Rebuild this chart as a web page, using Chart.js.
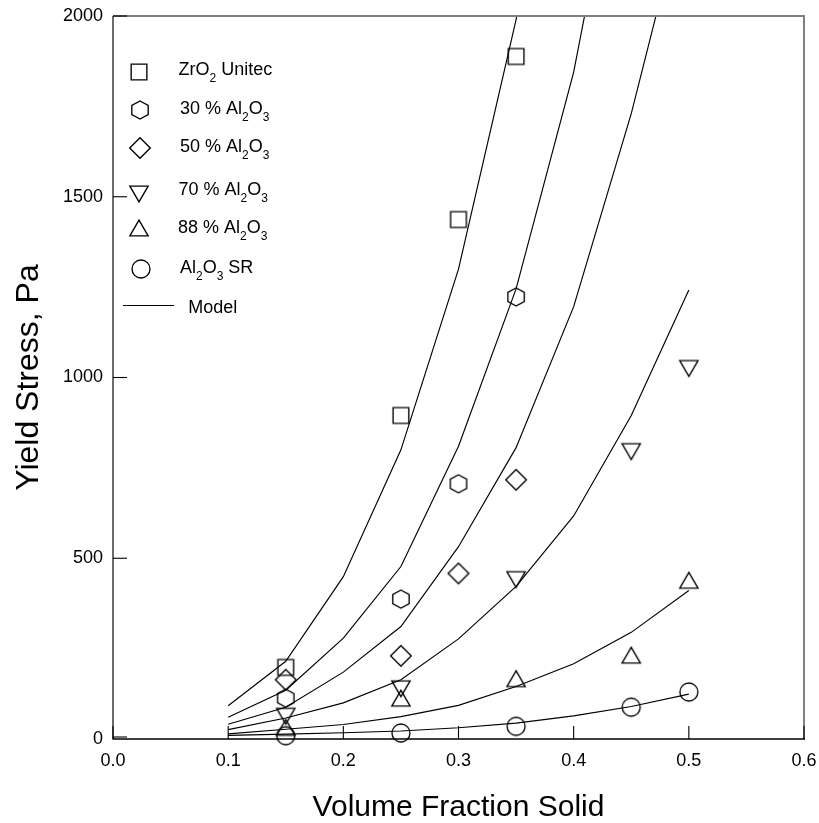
<!DOCTYPE html>
<html><head><meta charset="utf-8">
<script src="https://cdn.jsdelivr.net/npm/chart.js@4/dist/chart.umd.min.js"></script>
<style>html,body{margin:0;padding:0;background:#fff;}#wrap{width:819px;height:823px;}</style>
</head><body><div id="wrap"><canvas id="c" width="819" height="823"></canvas></div>
<script>
// ---------- data ----------
const seriesNames = ['ZrO2 Unitec', '30 % Al2O3', '50 % Al2O3', '70 % Al2O3', '88 % Al2O3', 'Al2O3 SR'];
const modelName = 'Model';
const xTickValues = [0, 0.1, 0.2, 0.3, 0.4, 0.5, 0.6];
const yTickValues = [0, 500, 1000, 1500, 2000];

const xZrO2 = [0.15, 0.25, 0.30, 0.35];
const yZrO2 = [198, 895, 1437, 1888];
const x30 = [0.15, 0.25, 0.30, 0.35];
const y30 = [113, 387, 706, 1223];
const x50 = [0.15, 0.25, 0.30, 0.35];
const y50 = [164, 230, 458, 717];
const x70 = [0.15, 0.25, 0.35, 0.45, 0.50];
const y70 = [63, 139, 441, 795, 1025];
const x88 = [0.15, 0.25, 0.35, 0.45, 0.50];
const y88 = [32, 113, 167, 232, 439];
const xSR = [0.15, 0.25, 0.35, 0.45, 0.50];
const ySR = [9, 16.5, 35, 88, 130];

const modelX = [0.10, 0.15, 0.20, 0.25, 0.30, 0.35, 0.40, 0.45, 0.50];
const modelZrO2 = [92, 215, 449, 800, 1300, 1990, 2900];
const model30 = [60, 135, 279, 477, 810, 1245, 1845, 2665];
const model50 = [41, 88, 185, 311, 532, 806, 1196, 1730, 2360];
const model70 = [26, 58, 100, 164, 277, 422, 617, 895, 1242];
const model88 = [14, 27, 40, 62, 93, 145, 208, 295, 411];
const modelSR = [10, 13.6, 17.4, 22, 31, 44, 64, 90, 124];

// ---------- helpers ----------
const FONT = '"Liberation Sans", Arial, Helvetica, sans-serif';
const pts = (xs, ys) => xs.map((x, i) => ({x: x, y: ys[i]}));

function marker(draw) {
  const c = document.createElement('canvas');
  c.width = 26; c.height = 26;
  const g = c.getContext('2d');
  g.strokeStyle = '#000'; g.lineWidth = 1.35; g.lineJoin = 'miter';
  g.beginPath(); draw(g, 13, 13); g.closePath(); g.stroke();
  return c;
}
const mSquare = marker((g, x, y) => { g.rect(x - 7.85, y - 7.85, 15.7, 15.7); });
const mHex = marker((g, x, y) => {
  g.moveTo(x, y - 9); g.lineTo(x + 8.2, y - 4.5); g.lineTo(x + 8.2, y + 4.5);
  g.lineTo(x, y + 9); g.lineTo(x - 8.2, y + 4.5); g.lineTo(x - 8.2, y - 4.5);
});
const mDiamond = marker((g, x, y) => {
  g.moveTo(x, y - 10.2); g.lineTo(x + 10.3, y); g.lineTo(x, y + 10.2); g.lineTo(x - 10.3, y);
});
const mDown = marker((g, x, y) => {
  g.moveTo(x - 9.15, y - 7.9); g.lineTo(x + 9.15, y - 7.9); g.lineTo(x, y + 7.9);
});
const mUp = marker((g, x, y) => {
  g.moveTo(x, y - 7.9); g.lineTo(x + 9.15, y + 7.9); g.lineTo(x - 9.15, y + 7.9);
});
const mCircle = marker((g, x, y) => { g.arc(x, y, 9, 0, Math.PI * 2); });
const markers = [mSquare, mHex, mDiamond, mDown, mUp, mCircle];

const measured = [[xZrO2, yZrO2], [x30, y30], [x50, y50], [x70, y70], [x88, y88], [xSR, ySR]];
const models = [modelZrO2, model30, model50, model70, model88, modelSR];

const datasets = [];
models.forEach((m) => {
  datasets.push({
    data: pts(modelX.slice(0, m.length), m), showLine: true, tension: 0,
    borderColor: '#000', borderWidth: 1.15, pointRadius: 0, fill: false
  });
});
measured.forEach((d, i) => {
  datasets.push({
    data: pts(d[0], d[1]), showLine: false, pointStyle: markers[i], pointRadius: 9,
    clip: false
  });
});

// legend label parser: digits right after letters become subscripts
function parseChem(s) {
  const parts = [];
  for (let i = 0; i < s.length; i++) {
    const ch = s[i];
    const prev = s[i - 1] || '';
    const sub = /[0-9]/.test(ch) && /[A-Za-z]/.test(prev);
    if (parts.length && parts[parts.length - 1].sub === sub) parts[parts.length - 1].t += ch;
    else parts.push({t: ch, sub: sub});
  }
  return parts;
}

const legendRows = [
  {mx: 139, my: 71.7, tx: 178.5, by: 75},
  {mx: 140, my: 110, tx: 180, by: 114},
  {mx: 140, my: 148.3, tx: 180, by: 152.3},
  {mx: 138.5, my: 193.6, tx: 178.5, by: 195},
  {mx: 139, my: 227.5, tx: 178, by: 233.3},
  {mx: 141, my: 269, tx: 180, by: 273.3}
];

const framePlugin = {
  id: 'frame',
  afterDraw(chart) {
    const {ctx, chartArea: a, scales: {x, y}} = chart;
    ctx.save();
    // top & right border (grey)
    ctx.strokeStyle = '#808080'; ctx.lineWidth = 2;
    ctx.beginPath(); ctx.moveTo(a.left, a.top); ctx.lineTo(a.right, a.top); ctx.lineTo(a.right, a.bottom); ctx.stroke();
    // left axis
    ctx.strokeStyle = '#3a3a3a'; ctx.lineWidth = 1.5;
    ctx.beginPath(); ctx.moveTo(a.left, a.top); ctx.lineTo(a.left, a.bottom); ctx.stroke();
    // bottom axis
    ctx.strokeStyle = '#000'; ctx.lineWidth = 1.5;
    ctx.beginPath(); ctx.moveTo(a.left - 0.5, a.bottom); ctx.lineTo(a.right + 1, a.bottom); ctx.stroke();
    // inside ticks
    ctx.strokeStyle = '#000'; ctx.lineWidth = 1.1;
    xTickValues.forEach(v => {
      const px = x.getPixelForValue(v);
      ctx.beginPath(); ctx.moveTo(px, a.bottom); ctx.lineTo(px, a.bottom - 13); ctx.stroke();
    });
    yTickValues.forEach(v => {
      const py = y.getPixelForValue(v) - (v === 0 ? 2 : 0);
      ctx.beginPath(); ctx.moveTo(a.left, py); ctx.lineTo(a.left + 14, py); ctx.stroke();
    });
    // legend
    ctx.fillStyle = '#000'; ctx.textAlign = 'left'; ctx.textBaseline = 'alphabetic';
    seriesNames.forEach((name, i) => {
      const r = legendRows[i];
      const m = markers[i];
      ctx.drawImage(m, Math.round(r.mx - m.width / 2), Math.round(r.my - m.height / 2));
      let cx = r.tx;
      parseChem(name).forEach(p => {
        ctx.font = (p.sub ? '12px ' : '18px ') + FONT;
        ctx.fillText(p.t, cx, r.by + (p.sub ? 6.5 : 0));
        cx += ctx.measureText(p.t).width;
      });
    });
    ctx.strokeStyle = '#000'; ctx.lineWidth = 1.1;
    ctx.beginPath(); ctx.moveTo(123, 305.5); ctx.lineTo(174, 305.5); ctx.stroke();
    ctx.font = '18px ' + FONT;
    ctx.fillText(modelName, 188.3, 313.3);
    ctx.restore();
  }
};

new Chart(document.getElementById('c'), {
  type: 'scatter',
  data: {datasets: datasets},
  options: {
    responsive: false, animation: false, devicePixelRatio: 1,
    layout: {padding: {left: 0, right: 15, top: 16, bottom: 0}},
    plugins: {legend: {display: false}, tooltip: {enabled: false}},
    events: [],
    scales: {
      x: {
        type: 'linear', position: 'bottom', min: 0, max: 0.6,
        afterFit(s) { s.height = 84; s.paddingLeft = 0; s.paddingRight = 0; s.paddingTop = 0; s.paddingBottom = 0; },
        grid: {display: false, drawTicks: false},
        border: {display: false},
        ticks: {stepSize: 0.1, autoSkip: false, maxRotation: 0, padding: 11, color: '#000',
          font: {family: FONT, size: 18}, callback: v => Number(v).toFixed(1)},
        title: {display: true, text: 'Volume Fraction Solid', color: '#000',
          font: {family: FONT, size: 30, lineHeight: 1}, padding: {top: 0, bottom: 0}}
      },
      y: {
        type: 'linear', position: 'left', min: 0, max: 2000,
        afterFit(s) { s.width = 113; s.paddingLeft = 0; s.paddingRight = 0; s.paddingTop = 0; s.paddingBottom = 0; },
        grid: {display: false, drawTicks: false},
        border: {display: false},
        ticks: {stepSize: 500, padding: 10, color: '#000',
          font: {family: FONT, size: 18}, callback: v => String(v)},
        title: {display: true, text: 'Yield Stress, Pa', color: '#000',
          font: {family: FONT, size: 32, lineHeight: 1}, padding: {top: 13, bottom: 0}}
      }
    }
  },
  plugins: [framePlugin]
});
</script>
</body></html>
